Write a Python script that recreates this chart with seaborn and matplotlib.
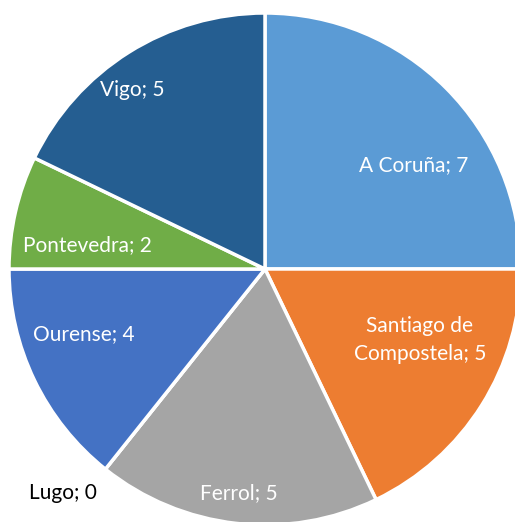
import numpy as np
import matplotlib
matplotlib.use("Agg")
import matplotlib.pyplot as plt
import seaborn as sns

# data
cities = ['A Coruña', 'Santiago de\nCompostela', 'Ferrol', 'Lugo', 'Ourense', 'Pontevedra', 'Vigo']
counts = [7, 5, 5, 0, 4, 2, 5]

# Office-like palette
palette = ['#5B9BD5', '#ED7D31', '#A5A5A5', '#FFC000', '#4472C4', '#70AD47', '#255E91']
label_colors = ['white', 'white', 'white', 'black', 'white', 'white', 'white']
# label placement per wedge: (fraction of radius, angle shift in degrees)
label_layout = [(0.71, -10), (0.665, 7.5), (0.88, -0.2), (1.18, -3.5),
                (0.75, -6), (0.70, 5.2), (0.87, 4.5)]

sns.set_theme(style='white')
plt.rcParams['font.family'] = ['Lato', 'DejaVu Sans']

W, H = 515, 522
fig = plt.figure(figsize=(W / 100, H / 100), dpi=100)
ax = fig.add_axes([0, 0, 1, 1])

cx, cy, r = 265, H - 269, 256
wedges, _ = ax.pie(counts, colors=sns.color_palette(palette), startangle=90,
                   counterclock=False, center=(cx, cy), radius=r, frame=True,
                   wedgeprops=dict(edgecolor='white', linewidth=2.5))

for w, name, val, col, (frac, shift) in zip(wedges, cities, counts, label_colors, label_layout):
    ang = np.deg2rad((w.theta1 + w.theta2) / 2 + shift)
    x = cx + frac * r * np.cos(ang)
    y = cy + frac * r * np.sin(ang)
    ax.text(x, y, f'{name}; {val}', ha='center', va='center', color=col,
            fontsize=15, linespacing=1.45)

ax.set_xlim(0, W)
ax.set_ylim(0, H)
ax.set_aspect('auto')
ax.axis('off')

fig.savefig('out.png', dpi=100)
